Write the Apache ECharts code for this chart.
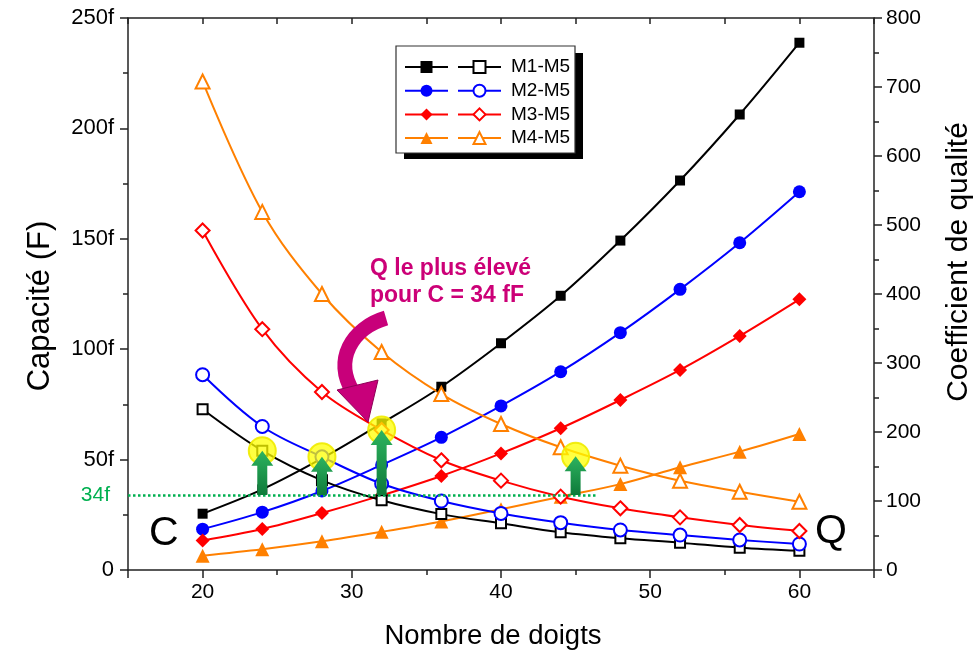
<!DOCTYPE html>
<html><head><meta charset="utf-8">
<script src="https://cdn.jsdelivr.net/npm/echarts@6/dist/echarts.min.js"></script>
<style>html,body{margin:0;padding:0;background:#fff}#c{width:974px;height:667px}</style>
</head><body><div id="c"></div>
<script>
// ---- data ----
const doigts = [20, 24, 28, 32, 36, 40, 44, 48, 52, 56, 60];
// Capacité (fF), axe gauche
const C_M1 = [25.5, 36.5, 50.5, 66.4, 83.0, 102.7, 124.2, 149.2, 176.4, 206.3, 238.8];
const C_M2 = [18.5, 26.2, 35.8, 47.6, 60.1, 74.3, 89.8, 107.5, 127.1, 148.2, 171.3];
const C_M3 = [13.4, 18.6, 25.8, 33.8, 42.6, 52.8, 64.2, 77.0, 90.6, 106.0, 122.6];
const C_M4 = [6.5, 9.4, 13.0, 17.3, 22.0, 27.5, 33.2, 38.9, 46.5, 53.6, 61.6];
// Coefficient de qualité, axe droit
const Q_M1 = [233, 173, 130, 101, 81, 67.6, 54.6, 45.9, 39.6, 32.4, 28];
const Q_M2 = [283, 208, 164, 125, 100, 82, 68.6, 58, 50.7, 43.5, 37.7];
const Q_M3 = [492, 349, 258, 203, 159, 129.5, 106.3, 89.4, 76.3, 65.2, 56.5];
const Q_M4 = [708, 519, 400, 316, 255, 211.6, 177.8, 151.2, 129.4, 113.5, 99];
const legendNames = ['M1-M5', 'M2-M5', 'M3-M5', 'M4-M5'];
// annotations (data coordinates)
const seuilC = 34;
const seuilFin = 46.4;
const annotX = [24, 28, 32, 45];
const annotQ = [173, 164, 203, 165];

const FONT = '"Liberation Sans", Arial, sans-serif';
const colors = ['#000000', '#0000FF', '#FF0000', '#FF8000'];
const symC = ['rect', 'circle', 'diamond', 'triangle'];
const symQ = ['emptyRect', 'emptyCircle', 'emptyDiamond', 'emptyTriangle'];
const sizes = [10, 13, 14, 14];
const Cs = [C_M1, C_M2, C_M3, C_M4];
const Qs = [Q_M1, Q_M2, Q_M3, Q_M4];

const pairs = arr => doigts.map((x, i) => [x, arr[i]]);
const series = [];
Cs.forEach((arr, k) => {
  const s = {
    name: 'C ' + legendNames[k], type: 'line', xAxisIndex: 0, yAxisIndex: 0,
    data: pairs(arr), smooth: 0.35, symbol: symC[k], symbolSize: sizes[k],
    lineStyle: { color: colors[k], width: 2 }, itemStyle: { color: colors[k] },
    z: 3
  };
  if (k === 0) {
    s.markLine = {
      silent: true, symbol: ['none', 'none'],
      lineStyle: { color: '#00B050', type: 'dotted', width: 2.5 },
      label: { show: true, position: 'start', formatter: '34f', color: '#00B050', fontSize: 21, fontFamily: FONT, distance: 18 },
      data: [[{ coord: [15, seuilC] }, { coord: [seuilFin, seuilC] }]]
    };
  }
  series.push(s);
});
Qs.forEach((arr, k) => {
  series.push({
    name: legendNames[k], type: 'line', xAxisIndex: 0, yAxisIndex: 1,
    data: pairs(arr), smooth: 0.35, symbol: symQ[k], symbolSize: sizes[k],
    lineStyle: { color: colors[k], width: 2 }, itemStyle: { color: colors[k] },
    z: 3
  });
});

const axisCol = '#222';
const legendCommon = {
  orient: 'vertical', top: 57.5, itemWidth: 43, itemHeight: 15, itemGap: 4.7,
  selectedMode: false, padding: 0
};

const chart = echarts.init(document.getElementById('c'), null, { renderer: 'canvas' });
const baseGraphic = [
  { id: 'lgShadow', type: 'rect', z: 3, shape: { x: 404, y: 53, width: 179, height: 106 }, style: { fill: '#000' } },
  { id: 'lgBox', type: 'rect', z: 3, shape: { x: 396, y: 46, width: 179, height: 107 }, style: { fill: '#fff', stroke: '#333', lineWidth: 1.2 } },
  { id: 'txtQ', type: 'text', z: 10, x: 370, y: 255, style: { text: 'Q le plus élevé\npour C = 34 fF', fill: '#CC0077', font: 'bold 23px ' + FONT, lineHeight: 27 } },
  { id: 'bigC', type: 'text', z: 10, x: 149, y: 513, style: { text: 'C', fill: '#000', font: '41px ' + FONT } },
  { id: 'bigQ', type: 'text', z: 10, x: 815, y: 511, style: { text: 'Q', fill: '#000', font: '41px ' + FONT } },
  { id: 'arcArrowBody', type: 'bezierCurve', z: 10,
    shape: { x1: 386, y1: 318, cpx1: 352, cpy1: 328, cpx2: 333, cpy2: 360, x2: 353, y2: 392 },
    style: { stroke: '#C8007A', lineWidth: 15, fill: null, lineCap: 'butt' } },
  { id: 'arcArrowHead', type: 'polygon', z: 10,
    shape: { points: [[337, 390], [378, 380], [368, 422]] },
    style: { fill: '#C8007A', stroke: '#8E0057', lineWidth: 1 } }
];

const legendText = { fontSize: 19, fontFamily: FONT, lineHeight: 19, padding: [0, 0, 0, 5] };

chart.setOption({
  animation: false,
  backgroundColor: '#fff',
  grid: { left: 128, right: 100, top: 18, bottom: 97, containLabel: false, outerBoundsMode: 'none' },
  legend: [
    Object.assign({ left: 404, data: legendNames.map(n => 'C ' + n), formatter: n => n.slice(2),
      textStyle: Object.assign({ color: 'rgba(0,0,0,0)' }, legendText) }, legendCommon),
    Object.assign({ left: 457, data: legendNames,
      textStyle: Object.assign({ color: '#000' }, legendText) }, legendCommon)
  ],
  xAxis: [
    { type: 'value', position: 'bottom', min: 15, max: 65, interval: 5,
      name: 'Nombre de doigts', nameLocation: 'middle', nameGap: 52,
      nameTextStyle: { fontSize: 27.5, fontFamily: FONT, color: '#000', padding: [0, 16, 0, 0] },
      axisLine: { show: true, lineStyle: { color: axisCol, width: 1.5 } },
      axisTick: { show: true, length: 5, lineStyle: { color: axisCol, width: 1.5 } },
      axisLabel: { fontSize: 21, fontFamily: FONT, color: '#000', margin: 12, formatter: v => (v % 10 === 0 ? String(v) : '') },
      splitLine: { show: false } },
    { type: 'value', position: 'bottom', min: 15, max: 65, splitNumber: 5,
      axisLine: { show: false }, axisLabel: { show: false }, splitLine: { show: false },
      axisTick: { show: true, length: 8, lineStyle: { color: axisCol, width: 1.5 } } },
    { type: 'value', position: 'top', min: 15, max: 65, interval: 5,
      axisLine: { show: true, lineStyle: { color: axisCol, width: 1.5 } },
      axisTick: { show: true, inside: true, length: 6, lineStyle: { color: axisCol, width: 1.5 } },
      axisLabel: { show: false }, splitLine: { show: false } }
  ],
  yAxis: [
    { type: 'value', position: 'left', min: 0, max: 250, interval: 50,
      name: 'Capacité (F)', nameLocation: 'middle', nameGap: 72,
      nameTextStyle: { fontSize: 31, fontFamily: FONT, color: '#000', padding: [0, 24, 0, 0] },
      axisLine: { show: true, lineStyle: { color: axisCol, width: 1.5 } },
      axisTick: { show: true, length: 8, lineStyle: { color: axisCol, width: 1.5 } },
      minorTick: { show: true, splitNumber: 2, length: 5, lineStyle: { color: axisCol, width: 1.5 } },
      axisLabel: { fontSize: 22, fontFamily: FONT, color: '#000', margin: 14, formatter: v => (v === 0 ? '0' : v + 'f') },
      splitLine: { show: false }, minorSplitLine: { show: false } },
    { type: 'value', position: 'right', min: 0, max: 800, interval: 100,
      name: 'Coefficient de qualité', nameLocation: 'middle', nameGap: 70, nameRotate: 90,
      nameTextStyle: { fontSize: 30, fontFamily: FONT, color: '#000', padding: [0, 0, 0, 64] },
      axisLine: { show: true, lineStyle: { color: axisCol, width: 1.5 } },
      axisTick: { show: true, length: 8, lineStyle: { color: axisCol, width: 1.5 } },
      minorTick: { show: true, splitNumber: 2, length: 5, lineStyle: { color: axisCol, width: 1.5 } },
      axisLabel: { fontSize: 21, fontFamily: FONT, color: '#000', margin: 12 },
      splitLine: { show: false }, minorSplitLine: { show: false } }
  ],
  series: series,
  graphic: { elements: baseGraphic }
});

// annotations: yellow highlights and green arrows, placed through the axes
const extra = [];
annotX.forEach((x, i) => {
  const base = chart.convertToPixel({ xAxisIndex: 0, yAxisIndex: 0 }, [x, seuilC]);
  const tip = chart.convertToPixel({ xAxisIndex: 0, yAxisIndex: 1 }, [x, annotQ[i]]);
  extra.push({ id: 'hl' + i, type: 'circle', z: 8, shape: { cx: tip[0], cy: tip[1], r: 13.5 },
    style: { fill: 'rgba(255,255,0,0.75)', stroke: 'rgba(240,235,0,0.9)', lineWidth: 2 } });
  const cx = tip[0], headH = 15, headW = 11, bodyW = 5;
  const yb = base[1], yt = tip[1];
  extra.push({ id: 'ar' + i, type: 'polygon', z: 9,
    shape: { points: [[cx - bodyW, yb], [cx - bodyW, yt + headH], [cx - headW, yt + headH], [cx, yt], [cx + headW, yt + headH], [cx + bodyW, yt + headH], [cx + bodyW, yb]] },
    style: { fill: new echarts.graphic.LinearGradient(0, 0, 0, 1, [{ offset: 0, color: '#2DB35F' }, { offset: 1, color: '#0E7A3A' }]) } });
});
chart.setOption({ graphic: { elements: baseGraphic.concat(extra) } });
</script>
</body></html>
